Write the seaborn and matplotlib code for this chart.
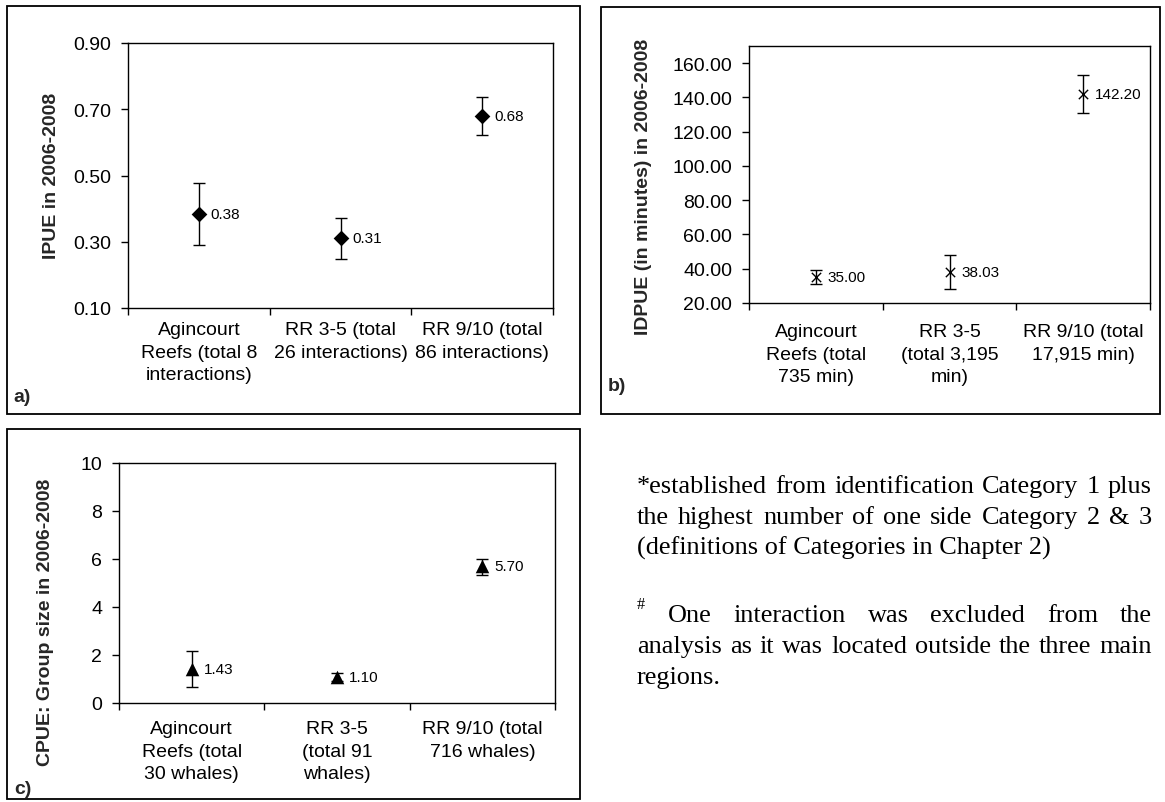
import matplotlib
matplotlib.use("Agg")
import matplotlib.pyplot as plt
import seaborn as sns
import numpy as np
import pandas as pd
from matplotlib.patches import Rectangle
from matplotlib.ticker import FormatStrFormatter

# ---------------- data ----------------
labels_a = ["Agincourt\nReefs (total 8\ninteractions)",
            "RR 3-5 (total\n26 interactions)",
            "RR 9/10 (total\n86 interactions)"]
ipue = [0.384, 0.31, 0.68]
ipue_lo = [0.29, 0.247, 0.622]
ipue_hi = [0.476, 0.373, 0.737]

labels_b = ["Agincourt\nReefs (total\n735 min)",
            "RR 3-5\n(total 3,195\nmin)",
            "RR 9/10 (total\n17,915 min)"]
idpue = [35.00, 38.03, 142.20]
idpue_lo = [31.0, 28.3, 131.0]
idpue_hi = [39.0, 47.8, 153.0]

labels_c = ["Agincourt\nReefs (total\n30 whales)",
            "RR 3-5\n(total 91\nwhales)",
            "RR 9/10 (total\n716 whales)"]
cpue = [1.43, 1.10, 5.70]
cpue_lo = [0.68, 0.93, 5.35]
cpue_hi = [2.18, 1.27, 6.02]

note1 = ["*established from identification Category 1 plus",
         "the highest number of one side Category 2 & 3",
         "(definitions of Categories in Chapter 2)"]
note2 = ["One interaction was excluded from the",
         "analysis as it was located outside the three main",
         "regions."]

# ---------------- setup ----------------
sns.set_theme(style="white")
plt.rcParams['font.family'] = ['Liberation Sans', 'DejaVu Sans']
plt.rcParams['axes.edgecolor'] = 'black'

W, H = 1165, 803
fig = plt.figure(figsize=(W / 100, H / 100), dpi=100)
fig.patch.set_facecolor('white')


def px_axes(l, t, r, b):
    return fig.add_axes([l / W, 1 - b / H, (r - l) / W, (b - t) / H])


def frame(l, t, r, b):
    fig.add_artist(Rectangle((l / W, 1 - b / H), (r - l) / W, (b - t) / H,
                             transform=fig.transFigure, fill=False,
                             ec='black', lw=1.3))


def panel(ax, cats, vals, lo, hi, marker, s, ylim, yticks, yfmt, xpad, lw=0):
    df = pd.DataFrame({"cat": cats, "val": vals})
    sns.scatterplot(data=df, x="cat", y="val", marker=marker, s=s,
                    color='black', edgecolor='black', linewidth=lw,
                    ax=ax, zorder=4, legend=False)
    err = [np.subtract(vals, lo), np.subtract(hi, vals)]
    ax.errorbar(df["cat"], df["val"], yerr=err, fmt='none', ecolor='black',
                elinewidth=1, capsize=4, capthick=1, zorder=3)
    for c, v in zip(cats, vals):
        ax.annotate(f"{v:.2f}", (c, v), xytext=(8.5, 0),
                    textcoords='offset points', ha='left', va='center',
                    fontsize=11, color='black')
    ax.set_xlim(-0.5, len(cats) - 0.5)
    ax.set_ylim(*ylim)
    ax.set_yticks(yticks)
    ax.yaxis.set_major_formatter(FormatStrFormatter(yfmt))
    ax.set_xticks(range(len(cats)))
    ax.set_xticklabels(cats, fontsize=14, linespacing=1.42,
                       multialignment='center')
    ax.set_xticks(np.arange(-0.5, len(cats), 1.0), minor=True)
    ax.tick_params(axis='x', which='major', length=0, pad=xpad,
                   bottom=True, labelsize=14, colors='black')
    ax.tick_params(axis='x', which='minor', length=5, width=1,
                   direction='out', bottom=True, color='black')
    ax.tick_params(axis='y', which='major', length=5, width=1,
                   direction='out', left=True, pad=7, labelsize=14,
                   colors='black')
    ax.set_xlabel("")
    ax.set_ylabel("")
    ax.set_facecolor('white')
    for sp in ax.spines.values():
        sp.set_visible(True)
        sp.set_color('black')
        sp.set_linewidth(1)


# ---------------- panel a ----------------
frame(7, 7, 580, 415)
ax_a = px_axes(128, 44, 553, 309)
panel(ax_a, labels_a, ipue, ipue_lo, ipue_hi, 'D', 64,
      (0.10, 0.90), np.arange(0.10, 0.91, 0.20), '%.2f', 9.5)
fig.text(52 / W, 1 - 176 / H, "IPUE in 2006-2008", rotation=90,
         ha='center', va='center', fontsize=14, fontweight='bold')
fig.text(13 / W, 1 - 398 / H, "a)", ha='left', va='center',
         fontsize=14, fontweight='bold')

# ---------------- panel b ----------------
frame(601, 8, 1160, 415)
ax_b = px_axes(749, 47, 1150, 304)
panel(ax_b, labels_b, idpue, idpue_lo, idpue_hi, 'x', 45,
      (20, 170), np.arange(20, 161, 20), '%.2f', 14.5, lw=1)
fig.text(643 / W, 1 - 187 / H, "IDPUE (in minutes) in 2006-2008",
         rotation=90, ha='center', va='center', fontsize=14,
         fontweight='bold')
fig.text(608 / W, 1 - 387 / H, "b)", ha='left', va='center',
         fontsize=14, fontweight='bold')

# ---------------- panel c ----------------
frame(7, 430, 580, 800)
ax_c = px_axes(119, 464, 555, 704)
panel(ax_c, labels_c, cpue, cpue_lo, cpue_hi, '^', 95,
      (0, 10), np.arange(0, 11, 2), '%d', 12.5)
fig.text(46 / W, 1 - 622 / H, "CPUE: Group size in 2006-2008",
         rotation=90, ha='center', va='center', fontsize=14,
         fontweight='bold')
fig.text(14 / W, 1 - 790 / H, "c)", ha='left', va='center',
         fontsize=14, fontweight='bold')

# ---------------- notes (justified serif text) ----------------
serif = ['Liberation Serif', 'DejaVu Serif']
renderer = fig.canvas.get_renderer()


def text_width(s, fs):
    t = fig.text(0, 0, s, fontsize=fs, family=serif)
    w = t.get_window_extent(renderer).width
    t.remove()
    return w


fs_note = 10 * 508 / text_width(note1[0], 10)


def put_line(s, x0, x1, ybase, justify):
    if not justify:
        fig.text(x0 / W, 1 - ybase / H, s, fontsize=fs_note, family=serif,
                 ha='left', va='baseline', color='black')
        return
    words = s.split()
    widths = [text_width(w, fs_note) for w in words]
    gap = (x1 - x0 - sum(widths)) / (len(words) - 1)
    x = x0
    for w, wd in zip(words, widths):
        fig.text(x / W, 1 - ybase / H, w, fontsize=fs_note, family=serif,
                 ha='left', va='baseline', color='black')
        x += wd + gap


x_left, x_right = 637, 1152
base1 = [493, 524, 555]
base2 = [622, 653, 684]
for i, s in enumerate(note1):
    put_line(s, x_left, x_right, base1[i], i < len(note1) - 1)
fig.text(x_left / W, 1 - 609 / H, "#", fontsize=fs_note * 0.62,
         family=serif, ha='left', va='baseline', color='black')
put_line(note2[0], 668, x_right, base2[0], True)
put_line(note2[1], x_left, x_right, base2[1], True)
put_line(note2[2], x_left, x_right, base2[2], False)

fig.savefig("out.png", dpi=100, facecolor='white')
